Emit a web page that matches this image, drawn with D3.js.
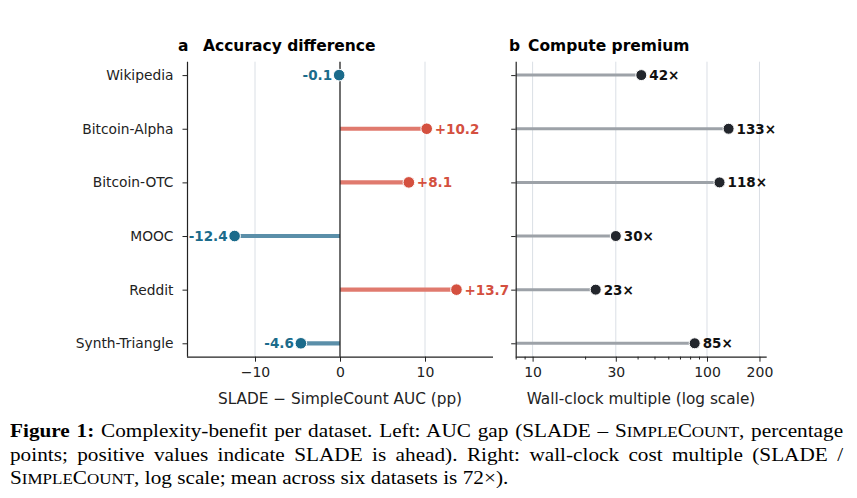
<!DOCTYPE html>
<html lang="en">
<head>
  <meta charset="UTF-8">
  <title>Complexity-benefit per dataset</title>
  <script src="https://d3js.org/d3.v7.min.js"></script>
  <style>
    body { margin: 0; background: #fff; }
    .wrap { position: relative; width: 857px; height: 498px; overflow: hidden; }
    svg { position: absolute; left: 0; top: 0; }
    svg text { font-family: "DejaVu Sans", sans-serif; }
    .caption {
      position: absolute; left: 10px; width: 706px; top: 419.5px;
      transform: scaleX(1.18); transform-origin: 0 0;
      font-family: "Liberation Serif", "Times New Roman", serif;
      font-size: 18px; line-height: 23px; color: #000;
    }
    .caption div { text-align: justify; text-align-last: justify; white-space: nowrap; }
    .caption div.last { text-align-last: left; }
    .sc { font-size: 0.8em; }
  </style>
</head>
<body>
  <div class="wrap">
    <svg width="857" height="498"></svg>
    <div class="caption">
      <div><b>Figure 1:</b> Complexity-benefit per dataset. Left: AUC gap (SLADE – S<span class="sc">IMPLE</span>C<span class="sc">OUNT</span>, percentage</div>
      <div>points; positive values indicate SLADE is ahead). Right: wall-clock cost multiple (SLADE /</div>
      <div class="last">S<span class="sc">IMPLE</span>C<span class="sc">OUNT</span>, log scale; mean across six datasets is 72×).</div>
    </div>
  </div>
  <script>
  // data
  var datasets = ["Wikipedia", "Bitcoin-Alpha", "Bitcoin-OTC", "MOOC", "Reddit", "Synth-Triangle"];
  var aucDiff = [-0.1, 10.2, 8.1, -12.4, 13.7, -4.6];
  var costMult = [42, 133, 118, 30, 23, 85];
  var diffTicks = [-10, 0, 10];
  var costTicks = [10, 30, 100, 200];
  var costMinor = [8, 9, 20, 40, 50, 60, 70, 80, 90];

  var svg = d3.select("svg");
  var yTop = 61.7, yBot = 356.7;
  var ink = "#222", grid = "#dadfe5";
  var red = "#d4503f", redStem = "#e07a6e", blue = "#1b6b8b", blueStem = "#5b8fa9";

  var y = d3.scalePoint().domain(datasets).range([yTop, yBot]).padding(0.25);

  // ---- panel a ----
  var xa = d3.scaleLinear().domain([-18, 18]).range([187, 493]);
  var ga = svg.append("g");

  ga.selectAll(".grid").data(diffTicks.filter(function(d) { return d !== 0; }))
    .enter().append("line")
      .attr("x1", function(d) { return xa(d); }).attr("x2", function(d) { return xa(d); })
      .attr("y1", yTop).attr("y2", yBot)
      .attr("stroke", grid).attr("stroke-width", 1);

  var rowsA = datasets.map(function(n, i) { return {name: n, v: aucDiff[i]}; });

  ga.selectAll(".stem").data(rowsA).enter().append("line")
      .attr("x1", xa(0)).attr("x2", function(d) { return xa(d.v); })
      .attr("y1", function(d) { return y(d.name); }).attr("y2", function(d) { return y(d.name); })
      .attr("stroke", function(d) { return d.v >= 0 ? redStem : blueStem; })
      .attr("stroke-width", 4.2);

  ga.append("line")
      .attr("x1", xa(0)).attr("x2", xa(0)).attr("y1", yTop).attr("y2", yBot)
      .attr("stroke", ink).attr("stroke-width", 1.3);

  ga.selectAll(".dot").data(rowsA).enter().append("circle")
      .attr("cx", function(d) { return xa(d.v); })
      .attr("cy", function(d) { return y(d.name); })
      .attr("r", 5.8)
      .attr("fill", function(d) { return d.v >= 0 ? red : blue; })
      .attr("stroke", "#fff").attr("stroke-width", 1);

  ga.selectAll(".val").data(rowsA).enter().append("text")
      .attr("x", function(d) { return xa(d.v) + (d.v >= 0 ? 8 : -7); })
      .attr("y", function(d) { return y(d.name); })
      .attr("dy", "0.36em")
      .attr("text-anchor", function(d) { return d.v >= 0 ? "start" : "end"; })
      .attr("font-size", 13.5).attr("font-weight", "bold")
      .attr("fill", function(d) { return d.v >= 0 ? red : blue; })
      .text(function(d) { return (d.v >= 0 ? "+" : "-") + Math.abs(d.v).toFixed(1); });

  var axA = ga.append("g").attr("transform", "translate(187,0)")
      .call(d3.axisLeft(y).tickSize(4.5).tickPadding(9));
  var axAb = ga.append("g").attr("transform", "translate(0," + yBot + ")")
      .call(d3.axisBottom(xa).tickValues(diffTicks).tickSize(5).tickPadding(5)
        .tickFormat(function(d) { return d < 0 ? "\u2212" + Math.abs(d) : d; }));

  ga.append("text").attr("x", 340).attr("y", 404).attr("text-anchor", "middle")
      .attr("font-size", 15.3).attr("fill", ink).text("SLADE \u2212 SimpleCount AUC (pp)");
  ga.append("text").attr("x", 178).attr("y", 50.7).attr("font-size", 15.5)
      .attr("font-weight", "bold").text("a");
  ga.append("text").attr("x", 203).attr("y", 50.7).attr("font-size", 15.5)
      .attr("font-weight", "bold").text("Accuracy difference");

  // ---- panel b ----
  var xb = d3.scaleLog().domain([8, 220]).range([515.7, 766.7]);
  var gb = svg.append("g");

  gb.selectAll(".grid").data(costTicks).enter().append("line")
      .attr("x1", function(d) { return xb(d); }).attr("x2", function(d) { return xb(d); })
      .attr("y1", yTop).attr("y2", yBot)
      .attr("stroke", grid).attr("stroke-width", 1);

  var rowsB = datasets.map(function(n, i) { return {name: n, v: costMult[i]}; });

  gb.selectAll(".stem").data(rowsB).enter().append("line")
      .attr("x1", xb(8)).attr("x2", function(d) { return xb(d.v); })
      .attr("y1", function(d) { return y(d.name); }).attr("y2", function(d) { return y(d.name); })
      .attr("stroke", "#9da2a8").attr("stroke-width", 3);

  gb.selectAll(".dot").data(rowsB).enter().append("circle")
      .attr("cx", function(d) { return xb(d.v); })
      .attr("cy", function(d) { return y(d.name); })
      .attr("r", 5.5)
      .attr("fill", "#23262c")
      .attr("stroke", "#fff").attr("stroke-width", 1);

  gb.selectAll(".val").data(rowsB).enter().append("text")
      .attr("x", function(d) { return xb(d.v) + 8; })
      .attr("y", function(d) { return y(d.name); })
      .attr("dy", "0.36em")
      .attr("font-size", 13.5).attr("font-weight", "bold").attr("fill", "#111")
      .text(function(d) { return d.v + "\u00d7"; });

  var axB = gb.append("g").attr("transform", "translate(515.7,0)")
      .call(d3.axisLeft(y).tickSize(4.5).tickFormat(""));
  var axBb = gb.append("g").attr("transform", "translate(0," + yBot + ")")
      .call(d3.axisBottom(xb).tickValues(costTicks).tickSize(5).tickPadding(5)
        .tickFormat(d3.format("d")));
  gb.append("g").attr("transform", "translate(0," + yBot + ")")
      .call(d3.axisBottom(xb).tickValues(costMinor).tickSize(2.8).tickFormat(""))
      .select(".domain").remove();

  gb.append("text").attr("x", 641).attr("y", 404).attr("text-anchor", "middle")
      .attr("font-size", 15.3).attr("fill", ink).text("Wall-clock multiple (log scale)");
  gb.append("text").attr("x", 509).attr("y", 50.7).attr("font-size", 15.5)
      .attr("font-weight", "bold").text("b");
  gb.append("text").attr("x", 528).attr("y", 50.7).attr("font-size", 15.5)
      .attr("font-weight", "bold").text("Compute premium");

  // axis styling: plain spines, no outer ticks
  svg.selectAll(".domain").attr("stroke", ink).attr("stroke-width", 1.2);
  svg.selectAll(".tick line").attr("stroke", ink);
  svg.selectAll(".tick text").attr("font-size", 14).attr("fill", ink)
      .attr("font-family", "DejaVu Sans, sans-serif");
  axA.selectAll(".tick text").attr("font-size", 13.8);
  axA.select(".domain").attr("d", "M0.5," + yTop + "V" + yBot);
  axB.select(".domain").attr("d", "M0.5," + yTop + "V" + yBot);
  axAb.select(".domain").attr("d", "M187,0.5H493");
  axBb.select(".domain").attr("d", "M515.7,0.5H766.7");
  </script>
</body>
</html>
